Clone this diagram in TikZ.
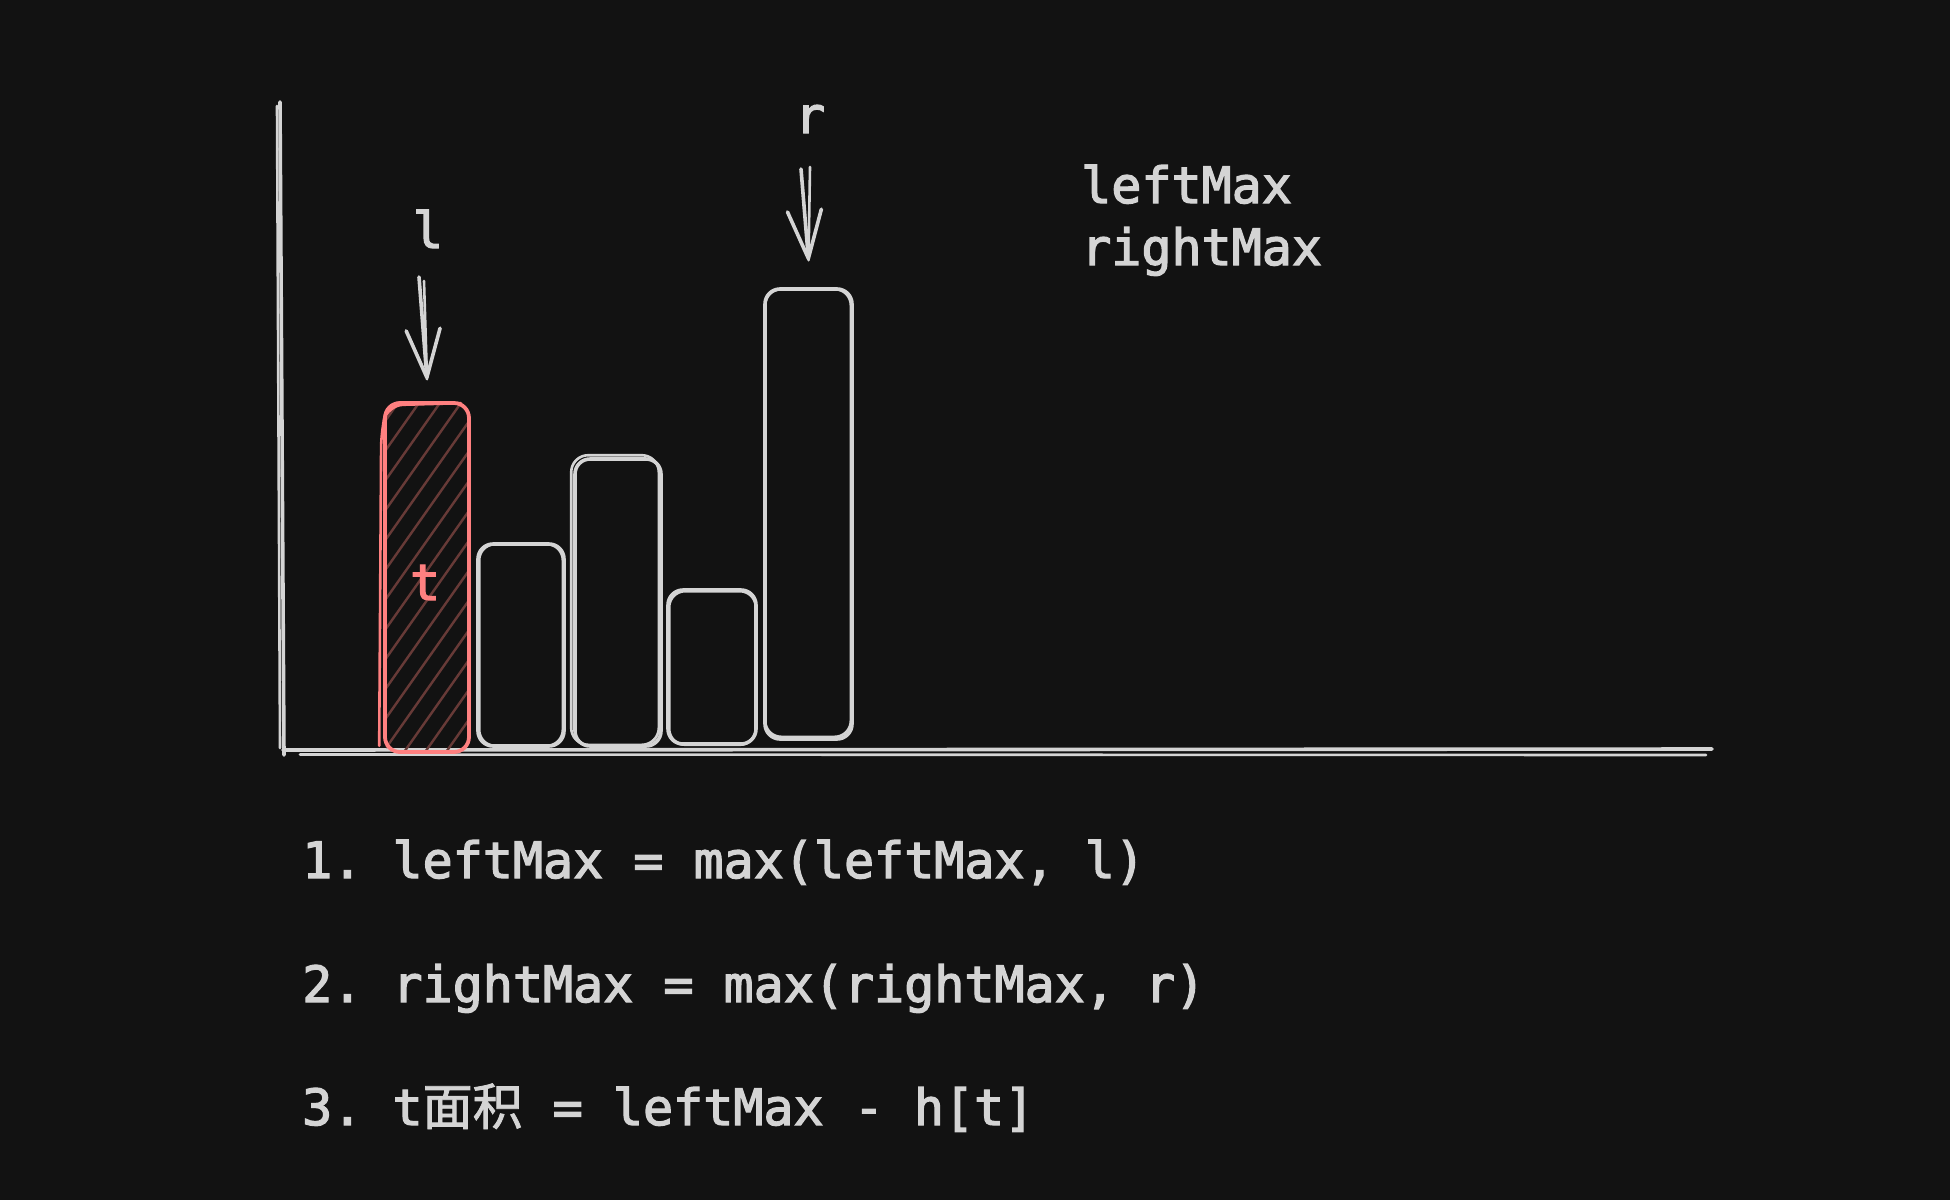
\documentclass[tikz,border=0pt]{standalone}
\usepackage{fontspec}
\newfontfamily\mono[FakeBold=2.6]{DejaVu Sans Mono}
\newfontfamily\cjk[FakeBold=1.6]{Noto Sans CJK SC}
\usetikzlibrary{arrows.meta,calc}
\definecolor{bg}{HTML}{121212}
\definecolor{fg}{HTML}{D4D4D4}
\definecolor{redc}{HTML}{FF8080}
\definecolor{hatch}{HTML}{673A37}
\tikzset{
  sk/.style={draw=fg, line width=3.6pt, line cap=round, line join=round},
  skthin/.style={draw=fg, line width=2.6pt, line cap=round, line join=round},
  barbox/.style={sk, rectangle, rounded corners=15pt, inner sep=0pt, minimum width=#1},
  txt/.style={text=fg, font=\mono\fontsize{50}{60}\selectfont\frenchspacing, inner sep=0pt},
  arrowtip/.style={-{Straight Barb[length=48pt,width=34pt,round]}},
}
\begin{document}
\begin{tikzpicture}[x=1pt,y=-1pt]
\fill[bg] (0,0) rectangle (1950,1200);
\useasboundingbox (0,0) rectangle (1950,1200);

% axes
\draw[sk] (280,102) -- (284,755);
\draw[skthin] (277,106) -- (280,748);
\draw[sk] (283,750) -- (1712,749);
\draw[skthin] (300,754.5) -- (1706,755);

% bars
\node[barbox=84pt, minimum height=349pt, draw=none] (b1) at (427,577.5) {};
\node[barbox=86pt, minimum height=202pt] (b2) at (521,645) {};
\node[barbox=86pt, minimum height=287pt] (b3) at (618,602.5) {};
\node[barbox=88pt, minimum height=154pt] (b4) at (712,667) {};
\node[barbox=87pt, minimum height=450pt] (b5) at (808.5,514) {};

% hachure in red bar
\begin{scope}
  \clip[rounded corners=15pt] (b1.south west) rectangle (b1.north east);
  \foreach \i in {0,...,16}{
    \draw[hatch, line width=2.4pt] (150+\i*21,755) -- (400+\i*21,400);
  }
\end{scope}
\node[barbox=84pt, minimum height=349pt, draw=redc, line width=3.8pt] at (b1.center) {};
\draw[draw=redc, line width=2.6pt, line cap=round, rounded corners=16pt]
  ($(b1.south west)+(-4,-8)$) -- ($(b1.north west)+(-2,30)$) -- ($(b1.north west)+(4,4)$) -- ($(b1.north east)+(-10,2)$);

% sketchy second strokes
\draw[skthin, rounded corners=16pt] ($(b2.south west)+(3,-2)$) rectangle ($(b2.north east)+(-3,2)$);
\draw[skthin, rounded corners=17pt] ($(b3.south west)+(-2,-3)$) rectangle ($(b3.north east)+(-4,-2)$);
\draw[skthin, rounded corners=16pt] ($(b4.south west)+(3,-1)$) rectangle ($(b4.north east)+(-2,3)$);
\draw[skthin, rounded corners=16pt] ($(b5.south west)+(2,-4)$) rectangle ($(b5.north east)+(-3,2)$);

% labels
\node[txt, anchor=base] (lab-l) at (428,248) {l};
\node[txt, anchor=base] (lab-r) at (810,133) {r};
\node[txt, anchor=base, text=redc] (lab-t) at (425,600) {t};

% arrows
\coordinate (lfrom) at (419,277);
\coordinate (lfrom2) at (424,281);
\coordinate (ltip) at ([yshift=22pt]b1.north);
\draw[sk, arrowtip] (lfrom) -- (ltip);
\draw[skthin] (lfrom2) -- (ltip);

\coordinate (rfrom) at (801,169);
\coordinate (rfrom2) at (810,167);
\coordinate (rtip) at ([yshift=27pt]b5.north);
\draw[sk, arrowtip] (rfrom) -- (rtip);
\draw[skthin] (rfrom2) -- (rtip);

% top right text
\node[txt, anchor=base west] (lm) at (1081,203) {leftMax};
\node[txt, anchor=base west] (rm) at (1081,265) {rightMax};

% formulas
\node[txt, anchor=base west] (f1) at (302,878) {1. leftMax = max(leftMax, l)};
\node[txt, anchor=base west] (f2) at (302,1002) {2. rightMax = max(rightMax, r)};
\node[txt, anchor=base west] (f3) at (302,1125) {3. t{\cjk\fontsize{50}{60}\selectfont 面积} = leftMax - h[t]};
\end{tikzpicture}
\end{document}
